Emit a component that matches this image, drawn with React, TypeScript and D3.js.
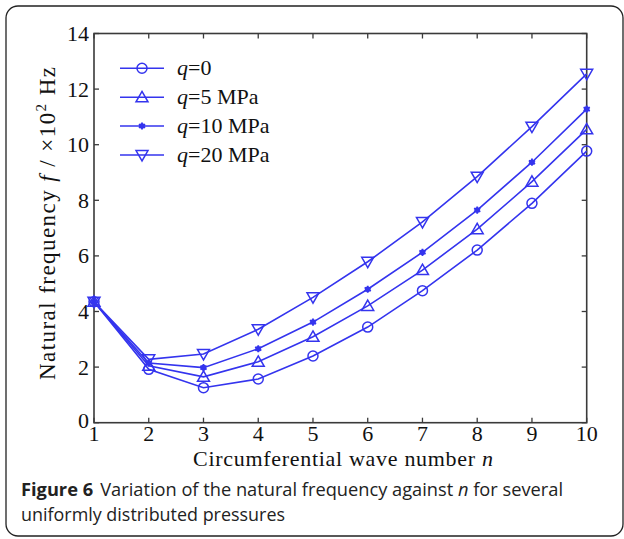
import React from "react";
import * as d3 from "d3";

const waveNumbers = [1, 2, 3, 4, 5, 6, 7, 8, 9, 10];
const q0 = [4.35, 1.92, 1.26, 1.57, 2.4, 3.44, 4.75, 6.21, 7.89, 9.77];
const q5 = [4.35, 2.05, 1.65, 2.19, 3.09, 4.2, 5.49, 6.96, 8.67, 10.55];
const q10 = [4.35, 2.15, 1.98, 2.66, 3.62, 4.8, 6.13, 7.65, 9.37, 11.28];
const q20 = [4.35, 2.28, 2.47, 3.36, 4.51, 5.79, 7.22, 8.85, 10.65, 12.55];
const seriesLabels = ["=0", "=5 MPa", "=10 MPa", "=20 MPa"];
const markerTypes = ["circle", "triUp", "star", "triDown"];
const xTicks = [1, 2, 3, 4, 5, 6, 7, 8, 9, 10];
const yTicks = [0, 2, 4, 6, 8, 10, 12, 14];

const W = 624;
const H = 539;
const M = { left: 94, top: 33.5, right: 586.7, bottom: 422.7 };
const BLUE = "#3434ee";
const AXIS = "#3a3a3a";

function Marker({ type, x, y }: { type: string; x: number; y: number }) {
  if (type === "circle") {
    return <circle cx={x} cy={y} r={5} fill="none" stroke={BLUE} strokeWidth={1.5} />;
  }
  if (type === "triUp" || type === "triDown") {
    const p = d3.symbol().type(d3.symbolTriangle).size(62)()!;
    return (
      <path
        d={p}
        transform={`translate(${x},${y + (type === "triUp" ? 1 : -1)}) rotate(${type === "triUp" ? 0 : 180})`}
        fill="none"
        stroke={BLUE}
        strokeWidth={1.5}
      />
    );
  }
  const p = d3.symbol().type(d3.symbolAsterisk).size(36)()!;
  return (
    <g transform={`translate(${x},${y})`}>
      <circle r={2.8} fill={BLUE} />
      <path d={p} fill="none" stroke={BLUE} strokeWidth={1.8} />
    </g>
  );
}

export default function App() {
  const x = d3.scaleLinear().domain([1, 10]).range([M.left, M.right]);
  const y = d3.scaleLinear().domain([0, 14]).range([M.bottom, M.top]);
  const line = d3
    .line<number>()
    .x((_, i) => x(waveNumbers[i]))
    .y((d) => y(d));
  const series = [q0, q5, q10, q20];
  const serif = "'Liberation Serif', 'Times New Roman', serif";
  const sans = "'Open Sans', 'Noto Sans', sans-serif";
  const legendX1 = 120;
  const legendX2 = 164;
  const legendY = [68.3, 97.3, 126, 155];

  return (
    <svg
      width={W}
      height={H}
      style={{ position: "absolute", left: 0, top: 0, background: "#fff" }}
    >
      <rect x={0} y={0} width={W} height={H} fill="#fff" />
      {/* outer frame */}
      <rect x={6} y={6} width={617} height={530} rx={12} ry={12} fill="none" stroke="#222" strokeWidth={1.3} />

      {/* plot box */}
      <rect
        x={M.left}
        y={M.top}
        width={M.right - M.left}
        height={M.bottom - M.top}
        fill="none"
        stroke={AXIS}
        strokeWidth={1.6}
      />
      {xTicks.map((t) => (
        <g key={"xt" + t}>
          <line x1={x(t)} x2={x(t)} y1={M.bottom} y2={M.bottom - 5} stroke={AXIS} strokeWidth={1.3} />
          <line x1={x(t)} x2={x(t)} y1={M.top} y2={M.top + 5} stroke={AXIS} strokeWidth={1.3} />
          <text
            x={x(t)}
            y={441}
            textAnchor="middle"
            fontFamily={serif}
            fontSize={22}
            fill="#111"
          >
            {t}
          </text>
        </g>
      ))}
      {yTicks.map((t) => (
        <g key={"yt" + t}>
          <line x1={M.left} x2={M.left + 5} y1={y(t)} y2={y(t)} stroke={AXIS} strokeWidth={1.3} />
          <line x1={M.right} x2={M.right - 5} y1={y(t)} y2={y(t)} stroke={AXIS} strokeWidth={1.3} />
          <text
            x={89}
            y={y(t) + 7.5 - (t === 0 ? 2 : 0)}
            textAnchor="end"
            fontFamily={serif}
            fontSize={22}
            fill="#111"
          >
            {t}
          </text>
        </g>
      ))}

      {/* series */}
      {series.map((s, si) => (
        <g key={"s" + si}>
          <path d={line(s)!} fill="none" stroke={BLUE} strokeWidth={1.6} />
          {s.map((v, i) => (
            <Marker key={i} type={markerTypes[si]} x={x(waveNumbers[i])} y={y(v)} />
          ))}
        </g>
      ))}

      {/* legend */}
      {seriesLabels.map((lab, i) => (
        <g key={"lg" + i}>
          <line x1={legendX1} x2={legendX2} y1={legendY[i]} y2={legendY[i]} stroke={BLUE} strokeWidth={1.6} />
          <Marker type={markerTypes[i]} x={(legendX1 + legendX2) / 2} y={legendY[i]} />
          <text x={177} y={legendY[i] + 7} fontFamily={serif} fontSize={22} fill="#111">
            <tspan fontStyle="italic">q</tspan>
            {lab}
          </text>
        </g>
      ))}

      {/* axis labels */}
      <text
        x={193}
        y={466}
        fontFamily={serif}
        fontSize={22}
        fill="#111"
        textLength={300}
        lengthAdjust="spacing"
      >
        Circumferential wave number <tspan fontStyle="italic">n</tspan>
      </text>
      <text
        transform="translate(55,380) rotate(-90)"
        fontFamily={serif}
        fontSize={23}
        fill="#111"
        textLength={313}
        lengthAdjust="spacing"
      >
        Natural frequency <tspan fontStyle="italic">f</tspan> / ×10
        <tspan fontSize={15} dy={-9}>2</tspan>
        <tspan dy={9}> Hz</tspan>
      </text>

      {/* caption */}
      <text
        x={21}
        y={496}
        fontFamily={sans}
        fontSize={18}
        fill="#222"
        textLength={542}
        lengthAdjust="spacingAndGlyphs"
      >
        <tspan fontWeight="bold">Figure 6</tspan>
        <tspan dx={7}>Variation of the natural frequency against </tspan>
        <tspan fontStyle="italic">n</tspan>
        {" for several"}
      </text>
      <text
        x={21}
        y={521}
        fontFamily={sans}
        fontSize={18}
        fill="#222"
        textLength={264}
        lengthAdjust="spacingAndGlyphs"
      >
        uniformly distributed pressures
      </text>
    </svg>
  );
}
